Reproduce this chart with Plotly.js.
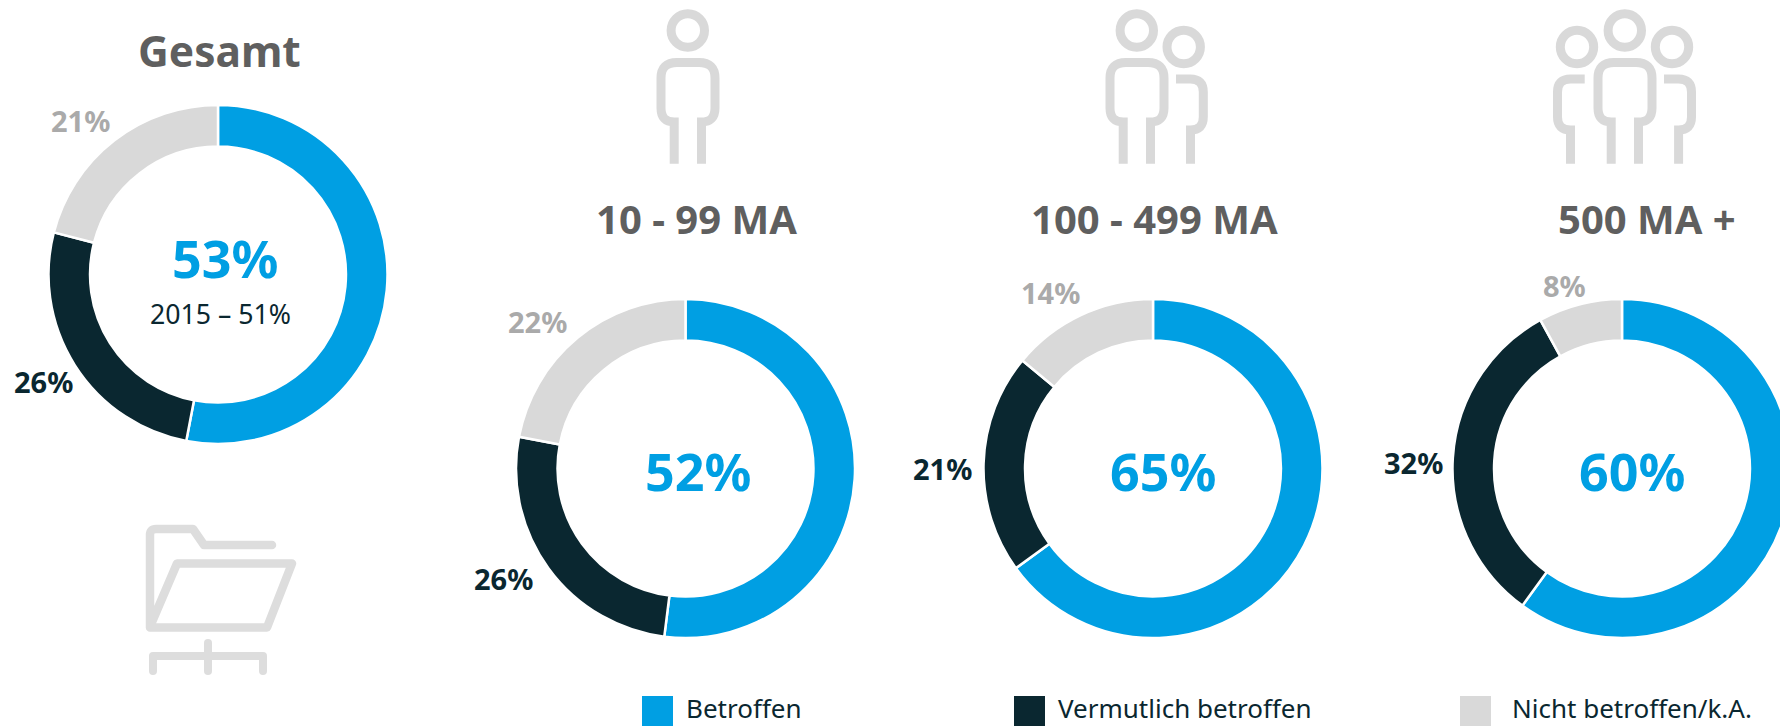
<!DOCTYPE html>
<html><head><meta charset="utf-8">
<script src="https://cdn.plot.ly/plotly-3.0.1.min.js"></script>
<style>html,body{margin:0;padding:0;background:#fff;overflow:hidden;width:1780px;height:726px}#c{width:1800px;height:726px}</style>
</head><body><div id="c"></div>
<script>
const W = 1800, H = 726;
const categories = ['Betroffen', 'Vermutlich betroffen', 'Nicht betroffen/k.A.'];
const colors = ['#009FE3', '#0A2730', '#D9D9D9'];
const gesamt = [53, 26, 21];
const ma10 = [52, 26, 22];
const ma100 = [65, 21, 14];
const ma500 = [60, 32, 8];
const groupNames = ['Gesamt', '10 - 99 MA', '100 - 499 MA', '500 MA +'];
const series = [gesamt, ma10, ma100, ma500];
const centers = [[218, 274.5], [685.5, 468.5], [1153, 468.5], [1622, 468.5]];
const R = 169.5;
const FONT = '"Noto Sans", sans-serif';
const titlePos = [[219, 50], [696, 218], [1154, 218], [1647, 218]];
const centerPos = [[225, 258], [698, 470], [1163, 470], [1632, 470]];
const darkPos = [[43, 381], [503, 578], [942, 468], [1413, 462]];
const grayPos = [[80, 121], [537, 322], [1050, 292], [1564, 285]];
const legendSwatchX = [642, 1014, 1460];
const legendTextX = [684, 1056, 1510];

const px = x => x / W, py = y => 1 - y / H;
const annotation = (text, p, size, color, bold, xanchor) => ({
  text: bold ? '<b>' + text + '</b>' : text, x: px(p[0]), y: py(p[1]), xref: 'paper', yref: 'paper',
  showarrow: false, xanchor: xanchor || 'center', yanchor: 'middle',
  font: {family: FONT, size, color}
});

const traces = series.map((vals, i) => ({
  type: 'pie', values: vals, labels: categories, sort: false, direction: 'clockwise', rotation: 0,
  hole: 0.755, textinfo: 'none', hoverinfo: 'skip', showlegend: false,
  marker: {colors, line: {color: '#fff', width: 2.5}},
  domain: {x: [px(centers[i][0] - R), px(centers[i][0] + R)], y: [py(centers[i][1] + R), py(centers[i][1] - R)]}
}));

const annotations = [];
groupNames.forEach((n, i) => {
  annotations.push(annotation(n, titlePos[i], i ? 40 : 42.5, '#5F5F5F', true));
  annotations.push(annotation(series[i][0] + '%', centerPos[i], 52, colors[0], true));
  annotations.push(annotation(series[i][1] + '%', darkPos[i], 29, colors[1], true));
  annotations.push(annotation(series[i][2] + '%', grayPos[i], 29, '#AAAAAA', true));
});
annotations.push(annotation('2015 – 51%', [220, 313], 26.7, colors[1], false));
categories.forEach((c, i) => annotations.push(annotation(c, [legendTextX[i], 708], 26, colors[1], false, 'left')));

// Icon drawing: pixel-space helpers mapped to paper coordinates
const pt = (x, y) => px(x) + ',' + py(y);
const M = (x, y) => 'M' + pt(x, y);
const L = (x, y) => 'L' + pt(x, y);
const Q = (a, b, x, y) => 'Q' + pt(a, b) + ' ' + pt(x, y);
const ring = (cx, cy, r) => {
  const k = 0.5523 * r;
  return M(cx - r, cy) + 'C' + pt(cx - r, cy - k) + ' ' + pt(cx - k, cy - r) + ' ' + pt(cx, cy - r) +
    'C' + pt(cx + k, cy - r) + ' ' + pt(cx + r, cy - k) + ' ' + pt(cx + r, cy) +
    'C' + pt(cx + r, cy + k) + ' ' + pt(cx + k, cy + r) + ' ' + pt(cx, cy + r) +
    'C' + pt(cx - k, cy + r) + ' ' + pt(cx - r, cy + k) + ' ' + pt(cx - r, cy) + 'Z';
};
const body = o => M(674.2 + o, 163.7) + L(674.2 + o, 122) + Q(661 + o, 122, 661 + o, 108) + L(661 + o, 78) +
  Q(661 + o, 62.5, 677 + o, 62.5) + L(699 + o, 62.5) + Q(715 + o, 62.5, 715 + o, 78) + L(715 + o, 108) +
  Q(715 + o, 122, 701.5 + o, 122) + L(701.5 + o, 163.7);
const stroke = (path, w, color) => ({type: 'path', xref: 'paper', yref: 'paper', path, layer: 'below',
  fillcolor: 'rgba(0,0,0,0)', line: {color: color || '#D9D9D9', width: w}});
const shapes = [];
[0, 449, 937].forEach(o => {
  shapes.push(stroke(ring(687.8 + o, 30.5, 16.7), 9));
  shapes.push(stroke(body(o), 9));
});
const sidePerson = (h, a, x, l) => {
  shapes.push(stroke(ring(h, 47, 16.7), 9));
  const s = Math.sign(x - a);
  shapes.push(stroke(M(a, 79) + L(x - s * 13, 79) + Q(x, 79, x, 92) + L(x, 117) + Q(x, 130, l, 130) + L(l, 163.7), 9));
};
sidePerson(1183.7, 1176, 1203.3, 1190.5);
sidePerson(1577, 1584.7, 1557.5, 1570.5);
sidePerson(1672, 1664, 1691.5, 1678.6);
const F = '#DDDDDD';
shapes.push(stroke(M(272, 545) + L(204, 545) + L(193, 529) + L(156, 529) + Q(150, 529, 150, 535) + L(150, 627.5) + L(267, 627.5) + L(292, 563.5) + L(177, 563.5) + L(152, 622), 8.5, F));
shapes.push(stroke(M(153, 671) + L(153, 656) + L(263, 656) + L(263, 671), 8, F));
shapes.push(stroke(M(208, 643) + L(208, 671), 8, F));
legendSwatchX.forEach((x, i) => shapes.push({type: 'rect', xref: 'paper', yref: 'paper',
  x0: px(x), x1: px(x + 31), y0: py(726), y1: py(696), fillcolor: colors[i], line: {width: 0}}));

Plotly.newPlot('c', traces, {
  width: W, height: H, margin: {l: 0, r: 0, t: 0, b: 0}, paper_bgcolor: '#fff', plot_bgcolor: '#fff',
  showlegend: false, annotations, shapes, font: {family: FONT}
}, {displayModeBar: false, staticPlot: true}).then(gd => {
  gd.querySelectorAll('.shapelayer path').forEach(p => {
    if (p.style.stroke === 'rgb(221, 221, 221)') {
      p.style.strokeLinecap = 'round';
      p.style.strokeLinejoin = 'round';
    }
  });
});
</script></body></html>
